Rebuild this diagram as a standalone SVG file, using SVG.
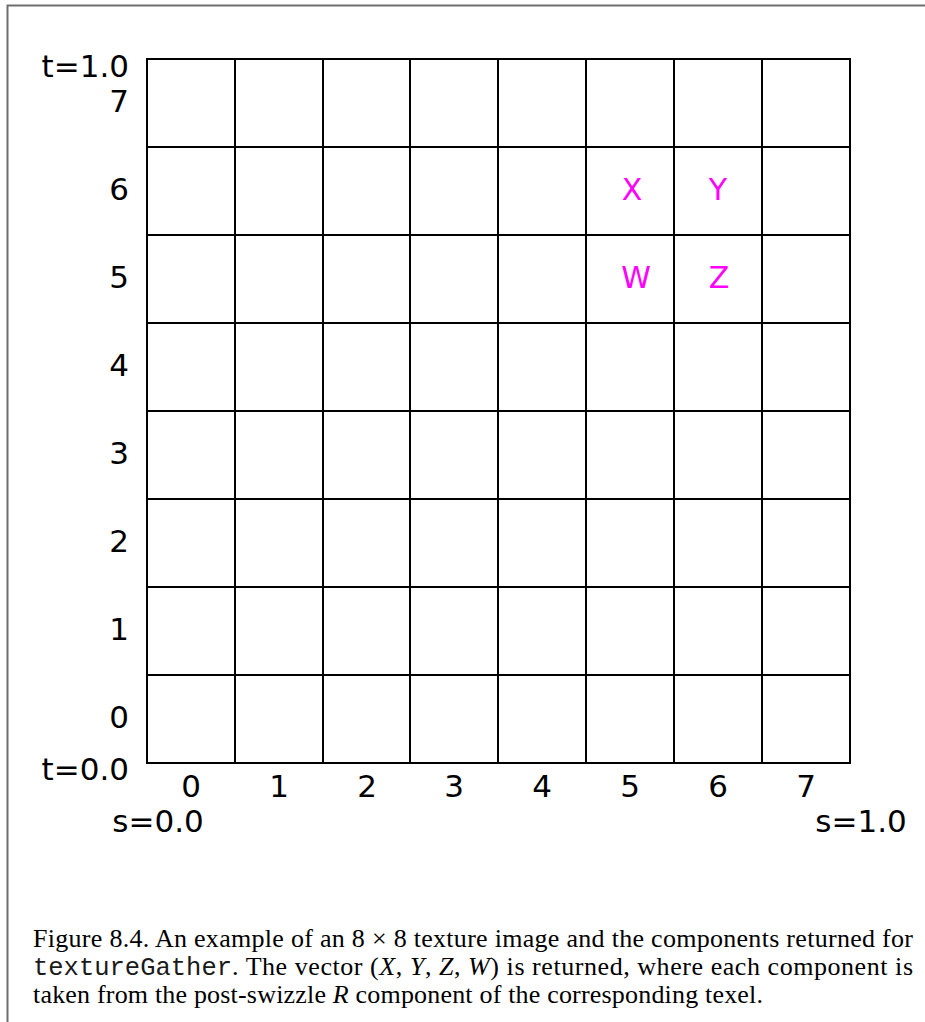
<svg xmlns="http://www.w3.org/2000/svg" width="925" height="1022" viewBox="0 0 925 1022">
<style>
.lbl{font-family:"DejaVu Sans",sans-serif;font-size:31px;fill:#000}
.r{text-anchor:end}
.c{text-anchor:middle}
.mag{font-family:"DejaVu Sans",sans-serif;font-size:30px;fill:#ff00ff;text-anchor:middle}
.cap{font-family:"Liberation Serif","Times New Roman",serif;font-size:26px;fill:#000}
.mono{font-family:"Liberation Mono","Courier New",monospace;font-size:25.5px;fill:#1a1a1a}
.grid line{stroke:#000;stroke-width:2}
</style>
<rect width="925" height="1022" fill="#fff"/>
<g id="frame" fill="none" stroke="#6e6e6e" stroke-width="2">
<path d="M925 5.5H7.5V1022"/>
</g>
<g id="grid" class="grid">
<line x1="147" y1="59" x2="147" y2="763"/>
<line x1="235" y1="59" x2="235" y2="763"/>
<line x1="323" y1="59" x2="323" y2="763"/>
<line x1="410" y1="59" x2="410" y2="763"/>
<line x1="498" y1="59" x2="498" y2="763"/>
<line x1="586" y1="59" x2="586" y2="763"/>
<line x1="674" y1="59" x2="674" y2="763"/>
<line x1="762" y1="59" x2="762" y2="763"/>
<line x1="850" y1="59" x2="850" y2="763"/>
<line x1="146" y1="59" x2="851" y2="59"/>
<line x1="147" y1="147" x2="850" y2="147"/>
<line x1="147" y1="235" x2="850" y2="235"/>
<line x1="147" y1="323" x2="850" y2="323"/>
<line x1="147" y1="411" x2="850" y2="411"/>
<line x1="147" y1="499" x2="850" y2="499"/>
<line x1="147" y1="587" x2="850" y2="587"/>
<line x1="147" y1="675" x2="850" y2="675"/>
<line x1="146" y1="763" x2="851" y2="763"/>
</g>
<g id="row-labels" class="lbl r">
<text x="129" y="77">t=1.0</text>
<text x="129" y="112">7</text>
<text x="129" y="200">6</text>
<text x="129" y="288">5</text>
<text x="129" y="376">4</text>
<text x="129" y="464">3</text>
<text x="129" y="552">2</text>
<text x="129" y="640">1</text>
<text x="129" y="728">0</text>
<text x="129" y="780">t=0.0</text>
</g>
<g id="col-labels" class="lbl c">
<text x="191" y="797">0</text>
<text x="279" y="797">1</text>
<text x="367" y="797">2</text>
<text x="454" y="797">3</text>
<text x="542" y="797">4</text>
<text x="630" y="797">5</text>
<text x="718" y="797">6</text>
<text x="806" y="797">7</text>
<text x="158" y="832">s=0.0</text>
<text x="861" y="832">s=1.0</text>
</g>
<g id="components">
<text class="mag" x="632" y="200">X</text>
<text class="mag" x="718" y="200">Y</text>
<text class="mag" x="636" y="288">W</text>
<text class="mag" x="719" y="288">Z</text>
</g>
<g id="caption">
<text class="cap" x="33" y="947" textLength="880" lengthAdjust="spacing">Figure 8.4. An example of an 8 × 8 texture image and the components returned for</text>
<text class="mono" x="33" y="975" textLength="199" lengthAdjust="spacingAndGlyphs">textureGather</text>
<text class="cap" x="232" y="975" textLength="681" lengthAdjust="spacing">. The vector (<tspan font-style="italic">X</tspan>, <tspan font-style="italic">Y</tspan>, <tspan font-style="italic">Z</tspan>, <tspan font-style="italic">W</tspan>) is returned, where each component is</text>
<text class="cap" x="33" y="1003" textLength="730" lengthAdjust="spacing">taken from the post-swizzle <tspan font-style="italic">R</tspan> component of the corresponding texel.</text>
</g>
</svg>
